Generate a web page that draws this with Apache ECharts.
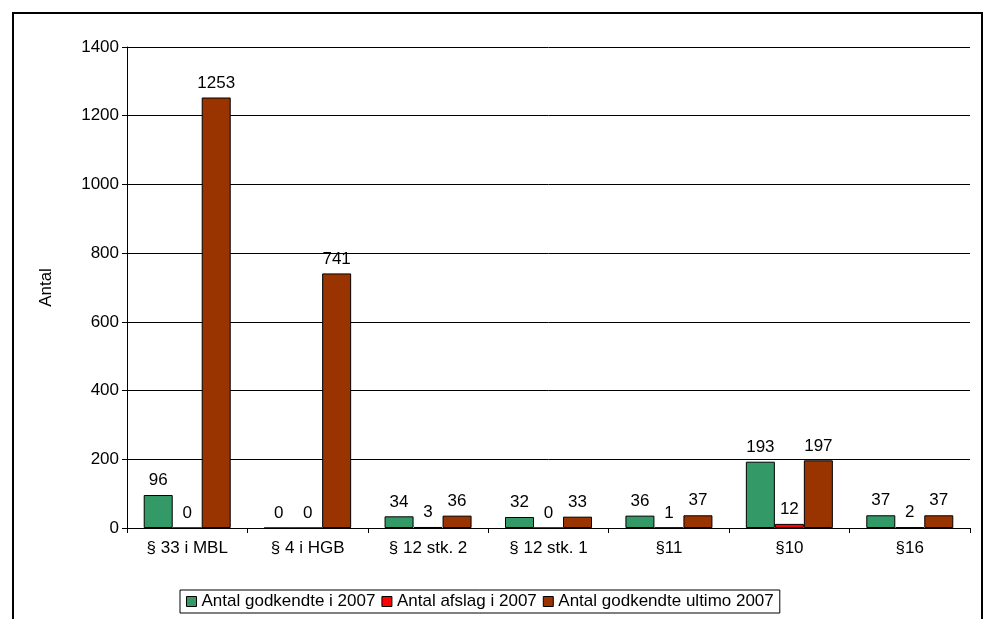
<!DOCTYPE html>
<html>
<head>
<meta charset="utf-8">
<script src="https://cdn.jsdelivr.net/npm/echarts@6/dist/echarts.min.js"></script>
<style>
  body { margin: 0; background: #fff; }
  #main { width: 986px; height: 619px; }
  #frame { position: absolute; left: 12px; top: 12px; width: 971px; height: 620px; border-top: 2px solid #000; border-left: 2px solid #000; border-right: 2px solid #000; box-sizing: border-box; pointer-events: none; }
</style>
</head>
<body>
<div id="main"></div>
<div id="frame"></div>
<script>
// kategorier og serier
var categories = ['§ 33 i MBL', '§ 4 i HGB', '§ 12 stk. 2', '§ 12 stk. 1', '§11', '§10', '§16'];
var godkendt2007 = [96, 0, 34, 32, 36, 193, 37];
var afslag2007 = [0, 0, 3, 0, 1, 12, 2];
var godkendtUltimo = [1253, 741, 36, 33, 37, 197, 37];
var seriesNames = ['Antal godkendte i 2007', 'Antal afslag i 2007', 'Antal godkendte ultimo 2007'];
var colors = ['#339966', '#FF0000', '#993300'];

var myChart = echarts.init(document.getElementById('main'));
var lbl = { show: true, position: 'top', color: '#000', fontSize: 17, distance: 6 };
function mk(i, data) {
    return {
        name: seriesNames[i], type: 'bar', data: data, barWidth: 29, barGap: '0%',
        itemStyle: { color: colors[i], borderColor: '#000', borderWidth: 1 },
        label: lbl
    };
}
var option = {
    animation: false,
    textStyle: { fontFamily: 'Liberation Sans, Arial' },
    grid: { left: 127, right: 16, top: 47, bottom: 91 },
    legend: {
        bottom: 6, left: 180, itemWidth: 10, itemHeight: 10, itemGap: 6,
        icon: 'rect', borderColor: '#000', borderWidth: 1, padding: [3, 6],
        textStyle: { fontSize: 17, color: '#000' },
        itemStyle: { borderColor: '#000', borderWidth: 1 },
        data: seriesNames
    },
    xAxis: {
        type: 'category', data: categories,
        axisLine: { lineStyle: { color: '#000' } },
        axisTick: { show: true, lineStyle: { color: '#000' } },
        axisLabel: { color: '#000', fontSize: 17, margin: 12 }
    },
    yAxis: {
        type: 'value', min: 0, max: 1400, interval: 200,
        name: 'Antal', nameLocation: 'middle', nameGap: 72, nameRotate: 90,
        nameTextStyle: { color: '#000', fontSize: 17 },
        axisLine: { show: true, lineStyle: { color: '#000' } },
        axisTick: { show: true, lineStyle: { color: '#000' } },
        axisLabel: { color: '#000', fontSize: 17, formatter: function (v) { return String(v); } },
        splitLine: { lineStyle: { color: '#000' } }
    },
    series: [mk(0, godkendt2007), mk(1, afslag2007), mk(2, godkendtUltimo)]
};
myChart.setOption(option);
</script>
</body>
</html>
